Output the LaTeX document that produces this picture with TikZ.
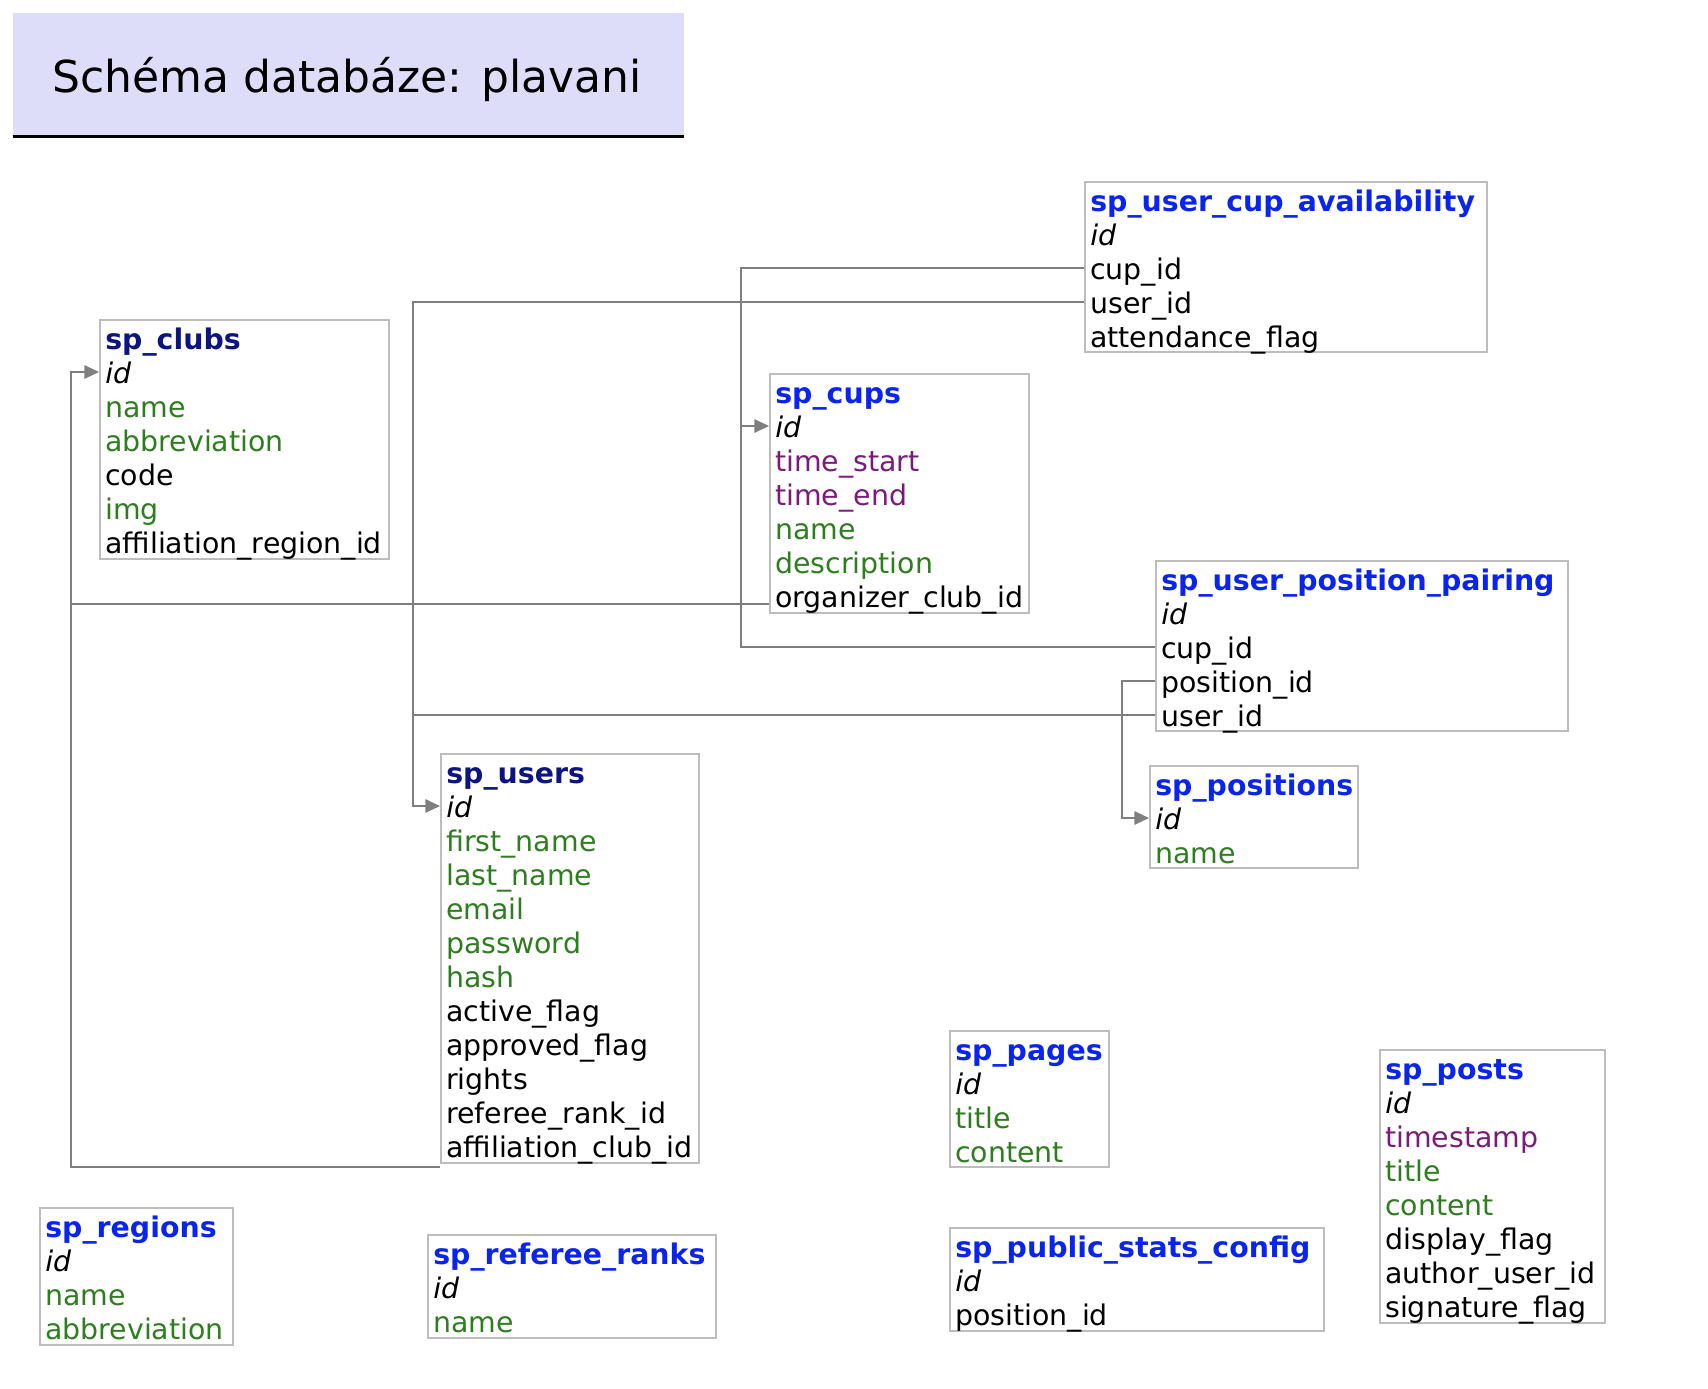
\documentclass[tikz,border=0pt]{standalone}
\usepackage{fontspec}
\setmainfont{DejaVu Sans}
\usetikzlibrary{fit,arrows.meta}
\definecolor{navy}{HTML}{0B1480}
\definecolor{tblue}{HTML}{0A24F0}
\definecolor{fgreen}{HTML}{2E7D1E}
\definecolor{fpurple}{HTML}{7A1A7A}
\definecolor{bordergray}{HTML}{BDBDBD}
\definecolor{linegray}{HTML}{7F7F7F}
\definecolor{titlefill}{HTML}{DDDDFA}
\begin{document}
\begin{tikzpicture}[x=0.75pt,y=-0.75pt,
  font=\fontsize{21.3}{25}\selectfont,
  tbox/.style={draw=bordergray,line width=1.5pt,inner sep=0pt},
  fld/.style={anchor=base west,inner sep=0pt,text height=16.5pt,text depth=0pt},
  ttl/.style={fld,font=\fontsize{21.3}{25}\selectfont\bfseries},
  tn/.style={ttl,text=navy},
  tb/.style={ttl,text=tblue},
  fi/.style={fld,font=\fontsize{21.3}{25}\selectfont\itshape},
  fg/.style={fld,text=fgreen},
  fp/.style={fld,text=fpurple},
  fb/.style={fld,text=black},
  fk/.style={draw=linegray,line width=1.5pt},
  fka/.style={fk,-{Triangle[length=11pt,width=10pt]}}]
\useasboundingbox (0,0) rectangle (1708,1388);

% title
\node[fit={(13,13)(684,136)},fill=titlefill,inner sep=0pt] (titlebox) {};
\node[anchor=base,inner sep=0pt] (titletext) at (347,92)
  {\fontsize{33}{40}\selectfont Schéma databáze: plavani};
\draw[line width=2.25pt] (titlebox.south west) -- (titlebox.south east);

% sp_user_cup_availability
\node[tbox,fit={(1085,182)(1487,352)}] (cupav) {};
\node[tb] (cupavT) at (1090,211) {sp\_user\_cup\_availability};
\node[fi] (cupavId) at (1090,245) {id};
\node[fb] (cupavCup) at (1090,279) {cup\_id};
\node[fb] (cupavUser) at (1090,313) {user\_id};
\node[fb] (cupavAtt) at (1090,347) {attendance\_flag};

% sp_clubs
\node[tbox,fit={(100,320)(389,559)}] (clubs) {};
\node[tn] (clubsT) at (105,349) {sp\_clubs};
\node[fi] (clubsId) at (105,383) {id};
\node[fg] (clubsName) at (105,417) {name};
\node[fg] (clubsAbbr) at (105,451) {abbreviation};
\node[fb] (clubsCode) at (105,485) {code};
\node[fg] (clubsImg) at (105,519) {img};
\node[fb] (clubsReg) at (105,553) {affiliation\_region\_id};

% sp_cups
\node[tbox,fit={(770,374)(1029,613)}] (cups) {};
\node[tb] (cupsT) at (775,403) {sp\_cups};
\node[fi] (cupsId) at (775,437) {id};
\node[fp] (cupsStart) at (775,471) {time\_start};
\node[fp] (cupsEnd) at (775,505) {time\_end};
\node[fg] (cupsName) at (775,539) {name};
\node[fg] (cupsDesc) at (775,573) {description};
\node[fb] (cupsOrg) at (775,607) {organizer\_club\_id};

% sp_user_position_pairing
\node[tbox,fit={(1156,561)(1568,731)}] (pair) {};
\node[tb] (pairT) at (1161,590) {sp\_user\_position\_pairing};
\node[fi] (pairId) at (1161,624) {id};
\node[fb] (pairCup) at (1161,658) {cup\_id};
\node[fb] (pairPos) at (1161,692) {position\_id};
\node[fb] (pairUser) at (1161,726) {user\_id};

% sp_positions
\node[tbox,fit={(1150,766)(1358,868)}] (positions) {};
\node[tb] (posT) at (1155,795) {sp\_positions};
\node[fi] (posId) at (1155,829) {id};
\node[fg] (posName) at (1155,863) {name};

% sp_users
\node[tbox,fit={(441,754)(699,1163)}] (users) {};
\node[tn] (usersT) at (446,783) {sp\_users};
\node[fi] (usersId) at (446,817) {id};
\node[fg] (usersFirst) at (446,851) {first\_name};
\node[fg] (usersLast) at (446,885) {last\_name};
\node[fg] (usersEmail) at (446,919) {email};
\node[fg] (usersPass) at (446,953) {password};
\node[fg] (usersHash) at (446,987) {hash};
\node[fb] (usersActive) at (446,1021) {active\_flag};
\node[fb] (usersApproved) at (446,1055) {approved\_flag};
\node[fb] (usersRights) at (446,1089) {rights};
\node[fb] (usersRank) at (446,1123) {referee\_rank\_id};
\node[fb] (usersClub) at (446,1157) {affiliation\_club\_id};

% sp_pages
\node[tbox,fit={(950,1031)(1109,1167)}] (pages) {};
\node[tb] (pagesT) at (955,1060) {sp\_pages};
\node[fi] (pagesId) at (955,1094) {id};
\node[fg] (pagesTitle) at (955,1128) {title};
\node[fg] (pagesContent) at (955,1162) {content};

% sp_posts
\node[tbox,fit={(1380,1050)(1605,1323)}] (posts) {};
\node[tb] (postsT) at (1385,1079) {sp\_posts};
\node[fi] (postsId) at (1385,1113) {id};
\node[fp] (postsTime) at (1385,1147) {timestamp};
\node[fg] (postsTitle) at (1385,1181) {title};
\node[fg] (postsContent) at (1385,1215) {content};
\node[fb] (postsDisplay) at (1385,1249) {display\_flag};
\node[fb] (postsAuthor) at (1385,1283) {author\_user\_id};
\node[fb] (postsSig) at (1385,1317) {signature\_flag};

% sp_regions
\node[tbox,fit={(40,1208)(233,1345)}] (regions) {};
\node[tb] (regT) at (45,1237) {sp\_regions};
\node[fi] (regId) at (45,1271) {id};
\node[fg] (regName) at (45,1305) {name};
\node[fg] (regAbbr) at (45,1339) {abbreviation};

% sp_referee_ranks
\node[tbox,fit={(428,1235)(716,1338)}] (ranks) {};
\node[tb] (ranksT) at (433,1264) {sp\_referee\_ranks};
\node[fi] (ranksId) at (433,1298) {id};
\node[fg] (ranksName) at (433,1332) {name};

% sp_public_stats_config
\node[tbox,fit={(950,1228)(1324,1331)}] (stats) {};
\node[tb] (statsT) at (955,1257) {sp\_public\_stats\_config};
\node[fi] (statsId) at (955,1291) {id};
\node[fb] (statsPos) at (955,1325) {position\_id};

% junction points
\coordinate (jcups) at (741,426);
\coordinate (jusers) at (413,807);
\coordinate (jpos) at (1122,819);
\coordinate (jclubs) at (71,373);

% connectors
\draw[fka] (cupavCup -| cupav.west) -- (cupavCup -| jcups) |- (cupsId -| cups.west);
\draw[fk] (pairCup -| pair.west) -| (jcups);
\draw[fka] (cupavUser -| cupav.west) -- (cupavUser -| jusers) |- (usersId -| users.west);
\draw[fk] (pairUser -| pair.west) -| (jusers);
\draw[fka] (pairPos -| pair.west) -- (pairPos -| jpos) |- (posId -| positions.west);
\draw[fka] ([yshift=2.25pt]cupsOrg.base -| cups.west) -- ([yshift=2.25pt]cupsOrg.base -| jclubs) |- (clubsId -| clubs.west);
\draw[fk] ([yshift=-2.25pt]users.south west) -| (jclubs);
\end{tikzpicture}
\end{document}
